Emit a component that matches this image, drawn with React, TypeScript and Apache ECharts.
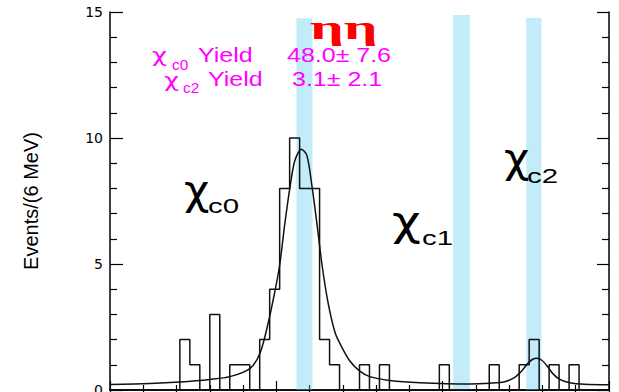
import React, { useEffect, useRef } from "react";
import * as echarts from "echarts";

// Invariant-mass histogram, 6 MeV bins from 3.30 GeV
const BIN_START = 3.3;
const BIN_WIDTH = 0.006;
const COUNTS = [
  0, 0, 0, 0, 0, 0, 0, 2, 1, 0, 3, 0, 1, 1, 0, 2, 4, 8, 10, 8, 8, 2, 1, 0, 0,
  1, 0, 1, 0, 0, 0, 0, 0, 1, 0, 0, 0, 0, 1, 0, 0, 1, 2, 0, 1, 0, 1, 0, 0, 0,
];

// Fitted line shape (mass in GeV, events per bin)
const FIT_MASS = [
  3.3, 3.324, 3.3421, 3.3601, 3.3721, 3.3841, 3.3901, 3.3949, 3.3991, 3.4021,
  3.4051, 3.4081, 3.4111, 3.4151, 3.4184, 3.4214, 3.4244, 3.4274, 3.431,
  3.4352, 3.4382, 3.4442, 3.4502, 3.4562, 3.4682, 3.4863, 3.5163, 3.5283,
  3.5373, 3.5433, 3.5475, 3.5511, 3.5541, 3.5565, 3.5596, 3.5632, 3.5662,
  3.5704, 3.5764, 3.5854, 3.6,
];
const FIT_EVENTS = [
  0.22, 0.26, 0.32, 0.42, 0.53, 0.85, 1.45, 2.6, 3.9, 5.0, 6.6, 8.0, 9.1, 9.55,
  9.3, 8.1, 6.6, 5.0, 3.5, 2.3, 1.85, 1.15, 0.75, 0.53, 0.38, 0.29, 0.24, 0.27,
  0.33, 0.5, 0.75, 1.05, 1.22, 1.26, 1.18, 0.92, 0.65, 0.42, 0.29, 0.23, 0.21,
];

// Mass windows of the chi_cJ states
const BAND_LOW = [3.4121, 3.5063, 3.5502];
const BAND_HIGH = [3.4217, 3.5163, 3.5594];
const BAND_TOP = [14.75, 14.88, 14.76];

const X_MIN = 3.3;
const X_MAX = 3.6;
const Y_TICKS_MAX = 15;

const YIELD_NAMES = ["c0", "c2"];
const YIELD_VALUES = ["48.0\u00b1 7.6", "3.1\u00b1 2.1"];

const SANS = "'Liberation Sans', Arial, Helvetica, sans-serif";
const SERIF = "'Liberation Serif', 'Times New Roman', serif";
const GREEK = "'DejaVu Sans', sans-serif";

function txt(
  text: string,
  left: number,
  baseline: number,
  size: number,
  fill: string,
  family: string,
  scaleX = 1,
  weight = "normal"
) {
  return {
    type: "text",
    x: left,
    y: baseline - 0.35 * size,
    scaleX,
    z: 10,
    style: {
      text,
      font: `${weight} ${size}px ${family}`,
      fill,
      textAlign: "left",
      textVerticalAlign: "middle",
      verticalAlign: "middle",
    },
  };
}

export default function App() {
  const ref = useRef<HTMLDivElement | null>(null);

  useEffect(() => {
    document.body.style.margin = "0";
    if (!ref.current) return;
    const chart = echarts.init(ref.current, undefined, { renderer: "svg" });

    // histogram outline
    const hist: number[][] = [[BIN_START, 0]];
    COUNTS.forEach((c, i) => {
      const lo = BIN_START + i * BIN_WIDTH;
      const hi = BIN_START + (i + 1) * BIN_WIDTH;
      hist.push([lo, c], [hi, c]);
    });
    hist.push([BIN_START + COUNTS.length * BIN_WIDTH, 0]);

    const fit = FIT_MASS.map((m, i) => [m, FIT_EVENTS[i]]);

    const bands = BAND_LOW.map((lo, i) => [
      { xAxis: lo, yAxis: 0 },
      { xAxis: BAND_HIGH[i], yAxis: BAND_TOP[i] },
    ]);

    const axisLine = { show: true, lineStyle: { color: "#000", width: 1.5 } };
    const tickStyle = { color: "#000", width: 1.2 };

    const graphic: any[] = [
      {
        type: "text",
        x: 31,
        y: 201,
        rotation: Math.PI / 2,
        z: 10,
        style: {
          text: "Events/(6 MeV)",
          font: `20px ${SANS}`,
          fill: "#000",
          textAlign: "center",
          textVerticalAlign: "middle",
          verticalAlign: "middle",
        },
      },
      txt("\u03b7\u03b7", 310, 39, 34, "#ff0000", SERIF, 1.75, "bold"),
      // yields
      txt("\u03c7", 152, 62, 20, "#ff00ff", GREEK, 1.3),
      txt(YIELD_NAMES[0], 172, 70, 14, "#ff00ff", SANS, 1.1),
      txt("Yield", 198, 62, 20, "#ff00ff", SANS, 1.25),
      txt(YIELD_VALUES[0], 287, 62, 20, "#ff00ff", SANS, 1.25),
      txt("\u03c7", 164, 86.5, 20, "#ff00ff", GREEK, 1.3),
      txt(YIELD_NAMES[1], 183, 93, 14, "#ff00ff", SANS, 1.1),
      txt("Yield", 208, 86.5, 20, "#ff00ff", SANS, 1.25),
      txt(YIELD_VALUES[1], 292, 86.5, 20, "#ff00ff", SANS, 1.25),
      // state labels
      txt("\u03c7", 184, 204, 40, "#000", GREEK, 1.1),
      txt("c0", 208, 213, 21, "#000", SANS, 1.4),
      txt("\u03c7", 392, 235, 40, "#000", GREEK, 1.25),
      txt("c1", 422, 245, 21, "#000", SANS, 1.4),
      txt("\u03c7", 504, 172, 40, "#000", GREEK, 1.1),
      txt("c2", 527, 183, 21, "#000", SANS, 1.4),
    ];

    chart.setOption({
      animation: false,
      backgroundColor: "#fff",
      grid: {
        left: 110,
        right: 10,
        top: 12,
        bottom: 2,
        containLabel: false,
        outerBoundsMode: "none",
      },
      xAxis: [
        {
          type: "value",
          position: "bottom",
          min: X_MIN,
          max: X_MAX,
          interval: 0.1,
          axisLine,
          axisTick: { show: true, inside: true, length: 9, lineStyle: tickStyle },
          minorTick: { show: true, splitNumber: 5, length: 5, lineStyle: tickStyle },
          axisLabel: { show: false },
          splitLine: { show: false },
        },
        {
          type: "value",
          position: "top",
          min: X_MIN,
          max: X_MAX,
          interval: 0.1,
          axisLine,
          axisTick: { show: true, inside: true, length: 6, lineStyle: tickStyle },
          minorTick: { show: true, splitNumber: 5, length: 4, lineStyle: tickStyle },
          axisLabel: { show: false },
          splitLine: { show: false },
        },
      ],
      yAxis: [
        {
          type: "value",
          position: "left",
          min: 0,
          max: Y_TICKS_MAX,
          interval: 5,
          axisLine,
          axisTick: { show: true, inside: true, length: 13, lineStyle: tickStyle },
          minorTick: { show: true, splitNumber: 5, length: 7, lineStyle: tickStyle },
          axisLabel: {
            show: true,
            margin: 7,
            color: "#000",
            fontSize: 14,
            fontFamily: "'DejaVu Sans', sans-serif",
          },
          splitLine: { show: false },
        },
        {
          type: "value",
          position: "right",
          min: 0,
          max: Y_TICKS_MAX,
          interval: 5,
          axisLine,
          axisTick: { show: true, inside: true, length: 12, lineStyle: tickStyle },
          minorTick: { show: true, splitNumber: 5, length: 7, lineStyle: tickStyle },
          axisLabel: { show: false },
          splitLine: { show: false },
        },
      ],
      series: [
        {
          type: "line",
          name: "windows",
          data: [],
          z: 1,
          silent: true,
          markArea: {
            silent: true,
            itemStyle: { color: "rgba(95, 205, 240, 0.38)" },
            data: bands,
          },
        },
        {
          type: "line",
          name: "data",
          data: hist,
          z: 3,
          symbol: "none",
          lineStyle: { color: "#111", width: 1.5 },
        },
        {
          type: "line",
          name: "fit",
          data: fit,
          z: 4,
          symbol: "none",
          smooth: 0.3,
          lineStyle: { color: "#111", width: 1.5 },
        },
      ],
      graphic,
    });

    return () => chart.dispose();
  }, []);

  return (
    <div
      ref={ref}
      style={{ position: "fixed", left: 0, top: 0, width: 619, height: 392 }}
    />
  );
}
